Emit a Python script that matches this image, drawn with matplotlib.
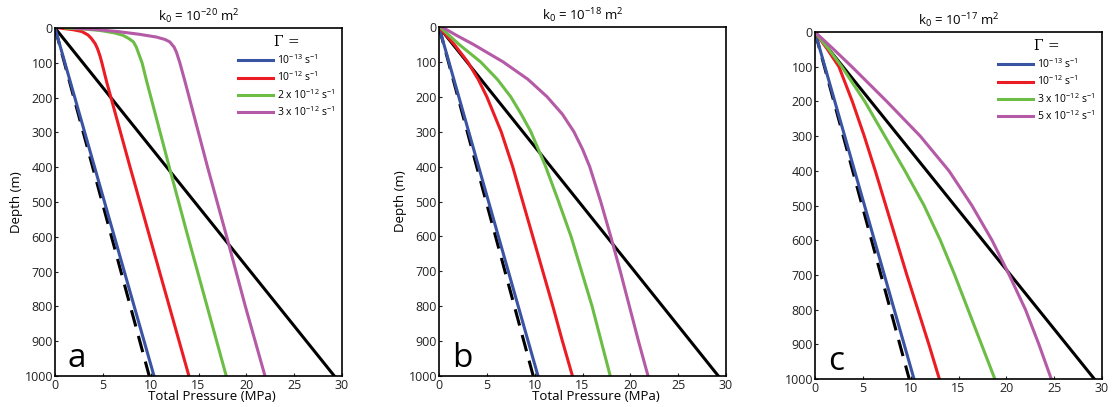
import matplotlib
matplotlib.use("Agg")
import matplotlib.pyplot as plt

plt.rcParams['font.family'] = ['Open Sans', 'DejaVu Sans']
plt.rcParams['mathtext.fontset'] = 'custom'
plt.rcParams['mathtext.rm'] = 'Open Sans'
plt.rcParams['mathtext.it'] = 'Open Sans'

BLUE = '#3A54A4'
RED = '#EC1C24'
GREEN = '#6CBD45'
MAGENTA = '#B45AA6'

titles = [r'k$_0$ = 10$^{-20}$ m$^2$', r'k$_0$ = 10$^{-18}$ m$^2$', r'k$_0$ = 10$^{-17}$ m$^2$']
panel_letters = ['a', 'b', 'c']
x_ticks = [0, 5, 10, 15, 20, 25, 30]
y_ticks = [0, 100, 200, 300, 400, 500, 600, 700, 800, 900, 1000]

# Reference lines (same in every panel)
hydro_depth = [0, 1000]
hydro_p = [0.0, 9.85]
litho_depth = [0, 1000]
litho_p = [0.0, 29.2]
blue_depth = [0, 1000]
blue_p = [0.0, 10.35]

# Panel a (k0 = 1e-20)
a_red_depth = [0, 5, 10, 20, 30, 45, 60, 80, 100, 155, 200, 400, 600, 800, 1000]
a_red_p = [0.5, 1.9, 2.8, 3.45, 3.8, 4.2, 4.45, 4.7, 4.9, 5.4, 5.85, 7.85, 9.9, 11.95, 14.0]
a_green_depth = [0, 3, 7, 14, 21, 30, 40, 55, 70, 100, 155, 400, 600, 800, 1000]
a_green_p = [1.1, 3.0, 4.7, 6.2, 7.1, 7.7, 8.2, 8.5, 8.7, 9.1, 9.6, 11.95, 13.9, 15.9, 17.9]
a_mag_depth = [0, 5, 10, 18, 26, 33, 40, 55, 70, 100, 155, 400, 600, 800, 1000]
a_mag_p = [1.9, 4.5, 6.5, 8.8, 10.6, 11.5, 12.0, 12.45, 12.7, 13.05, 13.6, 15.95, 17.95, 19.9, 21.95]

# Panel b (k0 = 1e-18)
b_red_depth = [0, 25, 50, 100, 150, 200, 300, 400, 500, 600, 700, 800, 900, 1000]
b_red_p = [0.0, 0.8, 1.6, 3.0, 4.1, 5.0, 6.5, 7.7, 8.75, 9.8, 10.85, 11.9, 12.9, 13.95]
b_green_depth = [0, 25, 50, 100, 150, 200, 250, 300, 400, 500, 600, 700, 800, 900, 1000]
b_green_p = [0.1, 1.1, 2.1, 4.35, 6.1, 7.5, 8.6, 9.6, 11.15, 12.5, 13.8, 14.9, 16.0, 16.95, 17.9]
b_mag_depth = [0, 25, 50, 100, 150, 200, 250, 300, 350, 400, 500, 600, 700, 800, 900, 1000]
b_mag_p = [0.3, 1.9, 3.6, 6.7, 9.3, 11.3, 12.9, 14.1, 15.0, 15.75, 16.9, 17.95, 18.95, 19.9, 20.85, 21.85]

# Panel c (k0 = 1e-17)
c_red_depth = [0, 50, 100, 200, 300, 400, 500, 600, 700, 800, 900, 1000]
c_red_p = [0.0, 1.3, 2.5, 3.9, 5.15, 6.3, 7.4, 8.5, 9.6, 10.75, 11.9, 13.0]
c_green_depth = [0, 50, 100, 200, 300, 400, 500, 600, 700, 800, 900, 1000]
c_green_p = [0.0, 1.45, 2.8, 5.2, 7.3, 9.4, 11.4, 13.1, 14.6, 16.0, 17.4, 18.8]
c_mag_depth = [0, 50, 100, 200, 300, 400, 500, 600, 700, 800, 900, 1000]
c_mag_p = [0.0, 1.95, 3.85, 7.5, 11.0, 14.0, 16.4, 18.5, 20.3, 22.0, 23.4, 24.7]

legend_a = [r'10$^{-13}$ s$^{-1}$', r'10$^{-12}$ s$^{-1}$', r'2 x 10$^{-12}$ s$^{-1}$', r'3 x 10$^{-12}$ s$^{-1}$']
legend_c = [r'10$^{-13}$ s$^{-1}$', r'10$^{-12}$ s$^{-1}$', r'3 x 10$^{-12}$ s$^{-1}$', r'5 x 10$^{-12}$ s$^{-1}$']

panels = [
    (a_red_depth, a_red_p, a_green_depth, a_green_p, a_mag_depth, a_mag_p),
    (b_red_depth, b_red_p, b_green_depth, b_green_p, b_mag_depth, b_mag_p),
    (c_red_depth, c_red_p, c_green_depth, c_green_p, c_mag_depth, c_mag_p),
]

W, H = 1116, 407
fig = plt.figure(figsize=(W / 100, H / 100), dpi=100)
boxes = [(55, 28, 342, 376), (439, 27, 726, 376), (815, 32, 1102, 379)]
legends = [legend_a, None, legend_c]

for i, ((l, t, r, b), data) in enumerate(zip(boxes, panels)):
    ax = fig.add_axes([l / W, 1 - b / H, (r - l) / W, (b - t) / H])
    rd, rp, gd, gp, md, mp = data
    ax.plot(hydro_p, hydro_depth, color='black', lw=2.2, dashes=(5.5, 3.2), solid_capstyle='butt')
    ax.plot(litho_p, litho_depth, color='black', lw=2.2)
    hb, = ax.plot(blue_p, blue_depth, color=BLUE, lw=2.2)
    hr, = ax.plot(rp, rd, color=RED, lw=2.2, solid_joinstyle='round')
    hg, = ax.plot(gp, gd, color=GREEN, lw=2.2, solid_joinstyle='round')
    hm, = ax.plot(mp, md, color=MAGENTA, lw=2.2, solid_joinstyle='round')
    ax.set_xlim(0, 30)
    ax.set_ylim(1000, 0)
    ax.set_xticks(x_ticks)
    ax.set_yticks(y_ticks)
    ax.tick_params(direction='in', length=2.5, labelsize=9, colors='#222222')
    ax.tick_params(axis='y', pad=1.5)
    ax.tick_params(axis='x', pad=2.5)
    for s in ax.spines.values():
        s.set_linewidth(1.2)
    ax.set_title(titles[i], fontsize=9.5, pad=5)
    if i < 2:
        ax.set_ylabel('Depth (m)', fontsize=9.5, labelpad=1)
        ax.set_xlabel('Total Pressure (MPa)', fontsize=9.5, labelpad=-1.5)
        ax.xaxis.label.set_x(0.545)
    ax.text(0.045, 9.0 / (b - t), panel_letters[i], transform=ax.transAxes, fontsize=24,
            ha='left', va='baseline')
    if legends[i] is not None:
        leg = ax.legend([hb, hr, hg, hm], legends[i], loc='upper right', frameon=False,
                        fontsize=7.5, title='Γ =', handlelength=3.3, handletextpad=0.4,
                        labelspacing=0.35, borderaxespad=0.3)
        leg.get_title().set_fontfamily('DejaVu Serif')
        leg.get_title().set_fontsize(10)

fig.savefig('out.png', dpi=100)
